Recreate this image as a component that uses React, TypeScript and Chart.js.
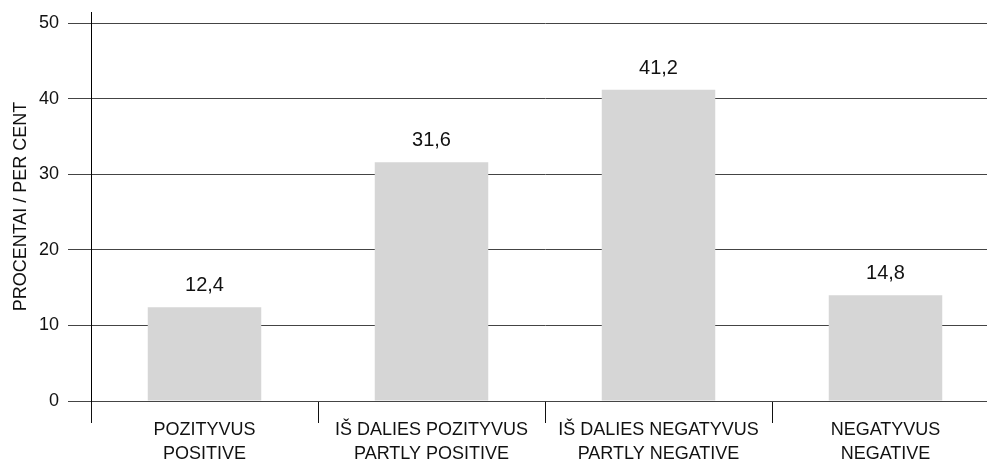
import React, { useEffect, useRef } from "react";
import { Chart, registerables } from "chart.js";

Chart.register(...registerables);

const CATEGORIES: string[][] = [
  ["POZITYVUS", "POSITIVE"],
  ["IŠ DALIES POZITYVUS", "PARTLY POSITIVE"],
  ["IŠ DALIES NEGATYVUS", "PARTLY NEGATIVE"],
  ["NEGATYVUS", "NEGATIVE"],
];
const VALUES: number[] = [12.4, 31.6, 41.2, 14.0];
const VALUE_LABELS: string[] = ["12,4", "31,6", "41,2", "14,8"];
const Y_TICKS: number[] = [0, 10, 20, 30, 40, 50];
const Y_TITLE = "PROCENTAI / PER CENT";

const FONT = "'Liberation Sans', Arial, Helvetica, sans-serif";

const valueLabelPlugin = {
  id: "valueLabels",
  afterDatasetsDraw(chart: any) {
    const ctx = chart.ctx;
    const meta = chart.getDatasetMeta(0);
    ctx.save();
    ctx.font = `20px ${FONT}`;
    ctx.fillStyle = "#111";
    ctx.textAlign = "center";
    ctx.textBaseline = "alphabetic";
    meta.data.forEach((bar: any, i: number) => {
      ctx.fillText(VALUE_LABELS[i], bar.x, bar.y - 16);
    });
    ctx.restore();
  },
};

export default function App() {
  const ref = useRef<HTMLCanvasElement>(null);
  useEffect(() => {
    if (!ref.current) return;
    const chart = new Chart(ref.current, {
      type: "bar",
      data: {
        labels: CATEGORIES,
        datasets: [
          {
            data: VALUES,
            backgroundColor: "#d6d6d6",
            borderWidth: 0,
            categoryPercentage: 1,
            barPercentage: 0.5,
          },
        ],
      },
      options: {
        responsive: false,
        animation: false,
        layout: { padding: { top: 12, right: 11, bottom: 0, left: 0 } },
        plugins: {
          legend: { display: false },
          tooltip: { enabled: false },
        },
        scales: {
          x: {
            offset: true,
            afterFit: (axis: any) => {
              axis.height = 59;
              axis.paddingLeft = 0;
              axis.paddingRight = 0;
            },
            grid: {
              offset: true,
              drawOnChartArea: false,
              drawTicks: true,
              tickLength: 22,
              color: "#111",
              lineWidth: 1,
            },
            border: { display: false },
            ticks: {
              color: "#111",
              padding: -5,
              maxRotation: 0,
              autoSkip: false,
              font: { family: FONT, size: 18, lineHeight: 1.33 },
            },
          },
          y: {
            min: 0,
            max: 51.5,
            afterFit: (axis: any) => {
              axis.width = 91;
              axis.paddingTop = 0;
              axis.paddingBottom = 0;
            },
            afterBuildTicks: (axis: any) => {
              axis.ticks = Y_TICKS.map((v) => ({ value: v }));
            },
            grid: {
              color: "#444",
              lineWidth: 1,
              drawTicks: true,
              tickLength: 23,
            },
            border: { display: true, color: "#000", width: 1 },
            ticks: {
              color: "#111",
              padding: 9,
              font: { family: FONT, size: 18 },
            },
            title: {
              display: true,
              text: Y_TITLE,
              color: "#111",
              padding: { top: 10, bottom: 0 },
              font: { family: FONT, size: 18 },
            },
          },
        },
      },
      plugins: [valueLabelPlugin],
    });
    return () => chart.destroy();
  }, []);

  return (
    <div
      style={{
        position: "fixed",
        left: 0,
        top: 0,
        width: 987,
        height: 460,
        overflow: "hidden",
        background: "#fff",
      }}
    >
      <canvas
        ref={ref}
        width={1010}
        height={460}
        style={{ width: 1010, height: 460, display: "block" }}
      />
    </div>
  );
}
